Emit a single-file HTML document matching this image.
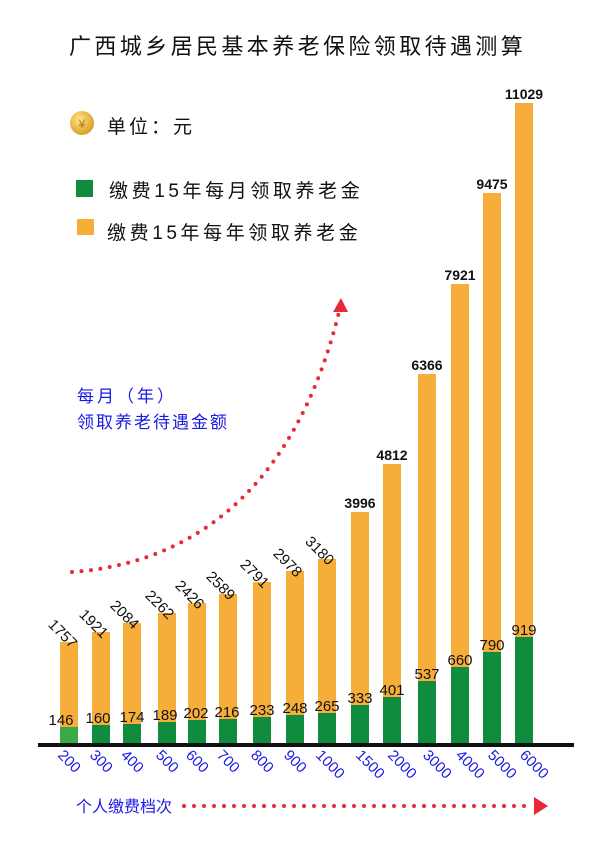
<!DOCTYPE html>
<html><head><meta charset="utf-8"><style>
html,body{margin:0;padding:0;background:#fff;}
svg{display:block;font-family:"Liberation Sans","Noto Sans CJK SC",sans-serif;}
</style></head><body>
<svg width="600" height="847" viewBox="0 0 600 847" xmlns="http://www.w3.org/2000/svg">
<rect width="600" height="847" fill="#fff"/>
<text x="69" y="54" font-size="22" fill="#111" letter-spacing="3.4">广西城乡居民基本养老保险领取待遇测算</text>
<defs><radialGradient id="g" cx="40%" cy="35%" r="70%"><stop offset="0" stop-color="#fde58a"/><stop offset="1" stop-color="#d89a1c"/></radialGradient></defs>
<circle cx="82" cy="123" r="12" fill="url(#g)"/>
<text x="82" y="128" font-size="12" fill="#b07a10" text-anchor="middle">¥</text>
<text x="107" y="133" font-size="19" fill="#111" letter-spacing="3">单位：元</text>
<rect x="76" y="180" width="17" height="17" fill="#0f8c3e"/>
<text x="109" y="197" font-size="19" fill="#111" letter-spacing="3.6">缴费15年每月领取养老金</text>
<rect x="77" y="219" width="17" height="16" fill="#f7ad3a"/>
<text x="107" y="239" font-size="19" fill="#111" letter-spacing="3.6">缴费15年每年领取养老金</text>
<text x="77" y="402" font-size="17" fill="#1a1ae6" letter-spacing="3">每月（年）</text>
<text x="77" y="428" font-size="17" fill="#1a1ae6" letter-spacing="2">领取养老待遇金额</text>
<path d="M72,572 C210,562 300,470 339,312" fill="none" stroke="#e8293a" stroke-width="4" stroke-linecap="round" stroke-dasharray="0 9.5"/>
<polygon points="333,312 348,312 341,298" fill="#e8293a"/>
<g fill="#f7ad3a">
<rect x="60" y="642" width="18" height="102"/>
<rect x="92" y="632" width="18" height="112"/>
<rect x="123" y="623" width="18" height="121"/>
<rect x="158" y="613" width="18" height="131"/>
<rect x="188" y="603" width="18" height="141"/>
<rect x="219" y="594" width="18" height="150"/>
<rect x="253" y="582" width="18" height="162"/>
<rect x="286" y="571" width="18" height="173"/>
<rect x="318" y="559" width="18" height="185"/>
<rect x="351" y="512" width="18" height="232"/>
<rect x="383" y="464" width="18" height="280"/>
<rect x="418" y="374" width="18" height="370"/>
<rect x="451" y="284" width="18" height="460"/>
<rect x="483" y="193" width="18" height="551"/>
<rect x="515" y="103" width="18" height="641"/>
</g>
<g fill="#0f8c3e">
<rect x="60" y="727" width="18" height="17" fill="#3aa948"/>
<rect x="92" y="725" width="18" height="19"/>
<rect x="123" y="724" width="18" height="20"/>
<rect x="158" y="722" width="18" height="22"/>
<rect x="188" y="720" width="18" height="24"/>
<rect x="219" y="719" width="18" height="25"/>
<rect x="253" y="717" width="18" height="27"/>
<rect x="286" y="715" width="18" height="29"/>
<rect x="318" y="713" width="18" height="31"/>
<rect x="351" y="705" width="18" height="39"/>
<rect x="383" y="697" width="18" height="47"/>
<rect x="418" y="681" width="18" height="63"/>
<rect x="451" y="667" width="18" height="77"/>
<rect x="483" y="652" width="18" height="92"/>
<rect x="515" y="637" width="18" height="107"/>
</g>
<rect x="38" y="743" width="536" height="4" fill="#111"/>
<g font-size="15" fill="#111" text-anchor="middle">
<text x="61" y="725">146</text><text x="98" y="723">160</text><text x="132" y="722">174</text>
<text x="165" y="720">189</text><text x="196" y="718">202</text><text x="227" y="717">216</text>
<text x="262" y="715">233</text><text x="295" y="713">248</text><text x="327" y="711">265</text>
<text x="360" y="703">333</text><text x="392" y="695">401</text><text x="427" y="679">537</text>
<text x="460" y="665">660</text><text x="492" y="650">790</text><text x="524" y="635">919</text>
</g>
<g font-size="15" fill="#111" text-anchor="end">
<text transform="translate(71,649) rotate(45)">1757</text>
<text transform="translate(102,639) rotate(45)">1921</text>
<text transform="translate(133,630) rotate(45)">2084</text>
<text transform="translate(168,620) rotate(45)">2262</text>
<text transform="translate(198,610) rotate(45)">2426</text>
<text transform="translate(229,601) rotate(45)">2589</text>
<text transform="translate(263,589) rotate(45)">2791</text>
<text transform="translate(296,578) rotate(45)">2978</text>
<text transform="translate(328,566) rotate(45)">3180</text>
</g>
<g font-size="14" font-weight="bold" fill="#111" text-anchor="middle">
<text x="360" y="508">3996</text><text x="392" y="460">4812</text><text x="427" y="370">6366</text>
<text x="460" y="280">7921</text><text x="492" y="189">9475</text><text x="524" y="99">11029</text>
</g>
<g font-size="15" fill="#1a1ae6">
<text transform="translate(57,756) rotate(45)">200</text>
<text transform="translate(89,756) rotate(45)">300</text>
<text transform="translate(120,756) rotate(45)">400</text>
<text transform="translate(155,756) rotate(45)">500</text>
<text transform="translate(185,756) rotate(45)">600</text>
<text transform="translate(216,756) rotate(45)">700</text>
<text transform="translate(250,756) rotate(45)">800</text>
<text transform="translate(283,756) rotate(45)">900</text>
<text transform="translate(315,756) rotate(45)">1000</text>
<text transform="translate(355,756) rotate(45)">1500</text>
<text transform="translate(387,756) rotate(45)">2000</text>
<text transform="translate(422,756) rotate(45)">3000</text>
<text transform="translate(455,756) rotate(45)">4000</text>
<text transform="translate(487,756) rotate(45)">5000</text>
<text transform="translate(519,756) rotate(45)">6000</text>
</g>
<text x="76" y="812" font-size="16" fill="#1a1ae6">个人缴费档次</text>
<path d="M184,806 L530,806" fill="none" stroke="#e8293a" stroke-width="4" stroke-linecap="round" stroke-dasharray="0 10"/>
<polygon points="534,797 534,815 548,806" fill="#e8293a"/>
</svg>
</body></html>
